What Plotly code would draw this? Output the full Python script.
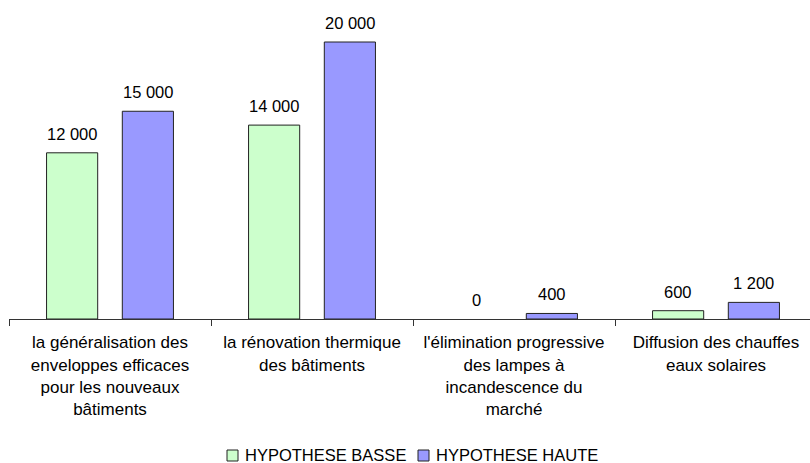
import plotly.graph_objects as go

categories = [
    "la généralisation des<br>enveloppes efficaces<br>pour les nouveaux<br>bâtiments",
    "la rénovation thermique<br>des bâtiments",
    "l'élimination progressive<br>des lampes à<br>incandescence du<br>marché",
    "Diffusion des chauffes<br>eaux solaires",
]
series_names = ["HYPOTHESE BASSE", "HYPOTHESE HAUTE"]
basse = [12000, 14000, 0, 600]
haute = [15000, 20000, 400, 1200]
colors = ["#CCFFCC", "#9999FF"]

FONT = "Liberation Sans, Arial, sans-serif"
W, H = 810, 463
ML, MR, MT, MB = 9, 0, 20, 144
PW = W - ML - MR
PH = H - MT - MB
CAT_W = 202.0
x_hi = -0.5 + PW / CAT_W
y_max = 20000 * PH / 277.0

fig = go.Figure()
for name, vals, col in zip(series_names, [basse, haute], colors):
    fig.add_trace(go.Bar(
        x=categories, y=vals, name=name,
        marker=dict(color=col, line=dict(color="#222222",
                                         width=[0 if v == 0 else 1 for v in vals])),
        showlegend=False,
    ))

def fmt(v):
    return f"{v:,}".replace(",", " ")

slot = CAT_W * 0.75 / 2
annotations = []
for i, vals in enumerate([basse, haute]):
    shift = (i - 0.5) * slot
    for c, v in zip(categories, vals):
        annotations.append(dict(
            x=c, y=v, xref="x", yref="y", text=fmt(v), showarrow=False,
            xshift=shift, yshift=8, yanchor="bottom", xanchor="center",
            font=dict(family=FONT, size=16.5, color="#000000"),
        ))

def px_x(p):
    return (p - ML) / PW

def px_y(p):
    return (H - MB - p) / PH

shapes = []
legend_items = [(227, 243), (418, 434)]
for (sq_x, tx_x), name, col in zip(legend_items, series_names, colors):
    shapes.append(dict(
        type="rect", xref="paper", yref="paper",
        x0=px_x(sq_x), x1=px_x(sq_x + 11), y0=px_y(461), y1=px_y(450),
        fillcolor=col, line=dict(color="#222222", width=1),
    ))
    annotations.append(dict(
        x=px_x(tx_x), y=px_y(455), xref="paper", yref="paper", text=name,
        showarrow=False, xanchor="left", yanchor="middle",
        font=dict(family=FONT, size=16.5, color="#000000"),
    ))

fig.update_layout(
    width=W, height=H,
    margin=dict(l=ML, r=MR, t=MT, b=MB, pad=0),
    paper_bgcolor="white", plot_bgcolor="white",
    barmode="group", bargap=0.25, bargroupgap=0.325,
    font=dict(family=FONT, size=16.5, color="#000000"),
    xaxis=dict(
        type="category", range=[-0.5, x_hi],
        showline=True, linecolor="#333333", linewidth=1,
        ticks="outside", tickson="boundaries", ticklen=6, tickcolor="#333333",
        ticklabelstandoff=8,
        showgrid=False, zeroline=False,
        tickfont=dict(family=FONT, size=17, color="#000000"),
    ),
    yaxis=dict(range=[0, y_max], visible=False, showgrid=False, zeroline=False),
    annotations=annotations,
    shapes=shapes,
)

fig.write_html("out.html")
